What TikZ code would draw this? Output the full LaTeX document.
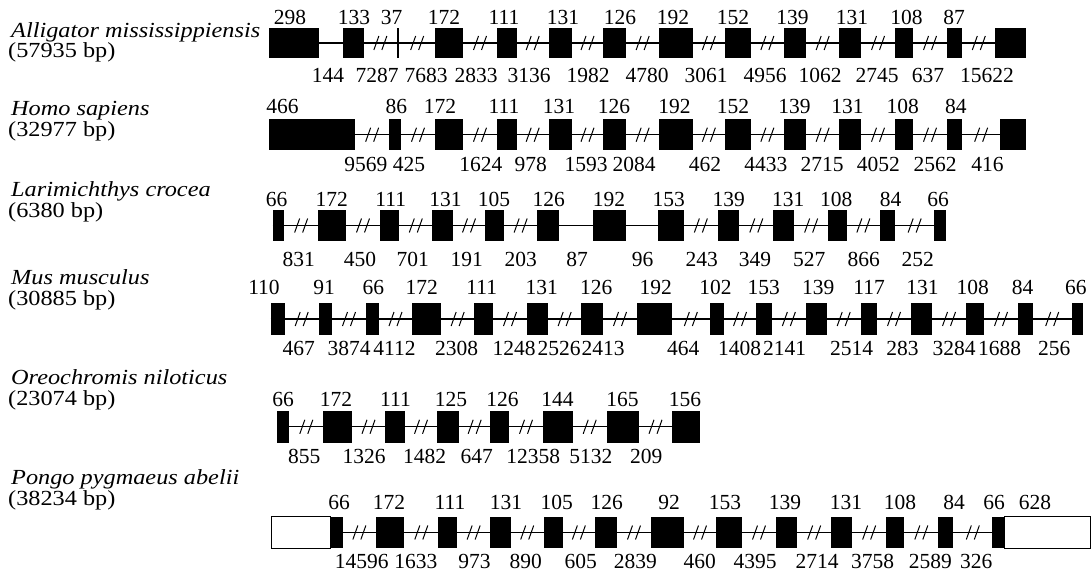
\documentclass[tikz,border=0pt]{standalone}
\usepackage{fontspec}
\setmainfont{Liberation Serif}
\usetikzlibrary{calc}

\tikzset{
  brk/.pic={\draw[line width=1pt] (-6.5,7) -- (-1.5,-7) (1.5,7) -- (6.5,-7);}
}
\newcommand{\wide}[1]{\scalebox{1.13}[1]{#1}}

\begin{document}
\begin{tikzpicture}[x=1pt,y=-1pt,
  exon/.style={fill=black},
  utr/.style={draw=black,fill=white,line width=1pt},
  intron/.style={line width=1.2pt},
  num/.style={font=\fontsize{21.5}{24}\selectfont,inner sep=0pt},
  species/.style={font=\fontsize{21.5}{24}\selectfont\itshape,anchor=base west,inner sep=0pt},
  gsize/.style={font=\fontsize{21.5}{24}\selectfont,anchor=base west,inner sep=0pt}]
  \useasboundingbox (0,0) rectangle (1091,575);

  % Alligator mississippiensis
  \node[species] (sp1) at (11,37.7) {\wide{Alligator mississippiensis}};
  \node[gsize] (bp1) at (8,57.6) {\wide{(57935 bp)}};
  \draw[intron] (269.3,43) -- (1026,43);
  \foreach \a/\b in {269.3/319.3,342.7/364,396.7/399.3,435/463.3,496.7/516.7,548.7/571.7,603.3/626,
    659.3/692.7,725/750.7,784/806,839.3/861,895/913.3,946.7/962.3,995.3/1026}
    \fill[exon] (\a,28.3) rectangle (\b,58.3);
  \foreach \a/\b in {364/396.7,399.3/435,463.3/496.7,516.7/548.7,571.7/603.3,626/659.3,692.7/725,
    750.7/784,806/839.3,861/895,913.3/946.7,962.3/995.3}
    \pic at ({(\a+\b)/2},43) {brk};
  \foreach \lab/\x [count=\i] in {298/290,133/354,37/391.7,172/444,111/504,131/563,126/620,
    192/673,152/733,139/792.5,131/852,108/906.5,87/954}
    \node[num] (ex1-\i) at (\x,17.5) {\lab};
  \foreach \lab/\x [count=\i] in {144/328,7287/377,7683/426,2833/476,3136/529,1982/588,4780/647,
    3061/706,4956/765,1062/820,2745/877,637/928,15622/987}
    \node[num] (in1-\i) at (\x,75) {\lab};

  % Homo sapiens
  \node[species] (sp2) at (11,116) {\wide{Homo sapiens}};
  \node[gsize] (bp2) at (8,136) {\wide{(32977 bp)}};
  \draw[intron] (269.3,134.7) -- (1026,134.7);
  \foreach \a/\b in {269.3/355,389.3/401,435/463.3,496.7/516.7,548.7/571.7,603.3/626,659.3/692.7,
    725/750.7,784/806,839.3/861,895/913.3,946.7/962.3,1000/1026}
    \fill[exon] (\a,119.3) rectangle (\b,150);
  \foreach \a/\b in {355/389.3,401/435,463.3/496.7,516.7/548.7,571.7/603.3,626/659.3,692.7/725,
    750.7/784,806/839.3,861/895,913.3/946.7,962.3/1000}
    \pic at ({(\a+\b)/2},134.7) {brk};
  \foreach \lab/\x [count=\i] in {466/282.5,86/396.3,172/440,111/504,131/559,126/614,
    192/674.5,152/733,139/794.5,131/847.5,108/902.7,84/955.8}
    \node[num] (ex2-\i) at (\x,106.7) {\lab};
  \foreach \lab/\x [count=\i] in {9569/365.8,425/409,1624/480.8,978/530.8,1593/586,2084/634,
    462/705,4433/765.8,2715/822,4052/878.3,2562/935,416/987.5}
    \node[num] (in2-\i) at (\x,164) {\lab};

  % Larimichthys crocea
  \node[species] (sp3) at (11,196.4) {\wide{Larimichthys crocea}};
  \node[gsize] (bp3) at (8,217) {\wide{(6380 bp)}};
  \draw[intron] (272.7,225.5) -- (946,225.5);
  \foreach \a/\b in {272.7/284,318.3/346,380/399.3,432.3/452.7,485.3/504,537.3/559,593.3/626,
    658.3/684,717.7/739.3,773.3/794,828.3/846.7,880/895.3,934/946}
    \fill[exon] (\a,210) rectangle (\b,241);
  \foreach \a/\b in {284/318.3,346/380,399.3/432.3,452.7/485.3,504/537.3,
    684/717.7,739.3/773.3,794/828.3,846.7/880,895.3/934}
    \pic at ({(\a+\b)/2},225.5) {brk};
  \foreach \lab/\x [count=\i] in {66/276.7,172/331.7,111/390.8,131/445.5,105/494,126/548.8,192/609,
    153/668.7,139/728.8,131/788.3,108/836.3,84/890.5,66/938}
    \node[num] (ex3-\i) at (\x,199) {\lab};
  \foreach \lab/\x [count=\i] in {831/298.8,450/360,701/412.8,191/466.7,203/520.8,87/577.2,96/642.5,
    243/701.7,349/755,527/809.2,866/863.7,252/917.8}
    \node[num] (in3-\i) at (\x,259.5) {\lab};

  % Mus musculus
  \node[species] (sp4) at (11,284.3) {\wide{Mus musculus}};
  \node[gsize] (bp4) at (8,305.8) {\wide{(30885 bp)}};
  \draw[intron] (270.7,319) -- (1083.3,319);
  \foreach \a/\b in {270.7/284.7,318.7/332,366/378.7,412.3/441,474.3/493.3,526.7/548.3,581/603.3,
    636.7/671.7,710/724,756/771.7,806/826.7,860.7/877.3,910.7/932.3,965.7/984.3,1017.7/1032.7,1071.7/1083.3}
    \fill[exon] (\a,303.3) rectangle (\b,335);
  \foreach \a/\b in {284.7/318.7,332/366,378.7/412.3,441/474.3,493.3/526.7,548.3/581,603.3/636.7,
    671.7/710,724/756,771.7/806,826.7/860.7,877.3/910.7,932.3/965.7,984.3/1017.7,1032.7/1071.7}
    \pic at ({(\a+\b)/2},319) {brk};
  \foreach \lab/\x [count=\i] in {110/264,91/324,66/373.3,172/421.7,111/481.7,131/541.7,126/596.3,
    192/655.8,102/715.5,153/763.7,139/818.3,117/869.2,131/922.5,108/972.7,84/1022.5,66/1075.8}
    \node[num] (ex4-\i) at (\x,287.5) {\lab};
  \foreach \lab/\x [count=\i] in {467/298.8,3874/349,4112/394.5,2308/456.7,1248/514.2,2526/559.2,
    2413/603,464/683.3,1408/739.5,2141/784.5,2514/851.7,283/902.5,3284/954,1688/999.5,256/1054.2}
    \node[num] (in4-\i) at (\x,348.3) {\lab};

  % Oreochromis niloticus
  \node[species] (sp5) at (11,384.7) {\wide{Oreochromis niloticus}};
  \node[gsize] (bp5) at (8,405.5) {\wide{(23074 bp)}};
  \draw[intron] (277.3,426.8) -- (700,426.8);
  \foreach \a/\b in {277.3/289.3,323.3/351.7,385.3/404.7,437.3/459.3,490/509.3,542.7/572.7,
    606.7/639.3,671.7/700}
    \fill[exon] (\a,411) rectangle (\b,442.7);
  \foreach \a/\b in {289.3/323.3,351.7/385.3,404.7/437.3,459.3/490,509.3/542.7,572.7/606.7,639.3/671.7}
    \pic at ({(\a+\b)/2},426.8) {brk};
  \foreach \lab/\x [count=\i] in {66/283,172/336,111/395.5,125/451,126/502.5,144/557.5,165/622.5,156/685}
    \node[num] (ex5-\i) at (\x,399.5) {\lab};
  \foreach \lab/\x [count=\i] in {855/304.2,1326/364.2,1482/424.7,647/476.7,12358/533.3,5132/590.8,209/646.3}
    \node[num] (in5-\i) at (\x,456.7) {\lab};

  % Pongo pygmaeus abelii
  \node[species] (sp6) at (11,484.7) {\wide{Pongo pygmaeus abelii}};
  \node[gsize] (bp6) at (8,505.5) {\wide{(38234 bp)}};
  \draw[intron] (330,532.5) -- (1004,532.5);
  \draw[utr] (271,516.7) rectangle (330,548.3);
  \draw[utr] (1004,516.7) rectangle (1090,548.3);
  \foreach \a/\b in {330/342.7,376/404.3,438.3/457.3,490/510.7,543.7/562.7,595/617.3,650.7/684,
    716/742.3,775.7/797.3,831/852.3,886/904.3,938.3/953.3,992.3/1004}
    \fill[exon] (\a,516.7) rectangle (\b,548.3);
  \foreach \a/\b in {342.7/376,404.3/438.3,457.3/490,510.7/543.7,562.7/595,617.3/650.7,684/716,
    742.3/775.7,797.3/831,852.3/886,904.3/938.3,953.3/992.3}
    \pic at ({(\a+\b)/2},532.5) {brk};
  \foreach \lab/\x [count=\i] in {66/339,172/389,111/450,131/506,105/556.7,126/606.7,92/669,
    153/725,139/785,131/846,108/900,84/954,66/994,628/1035}
    \node[num] (ex6-\i) at (\x,502.5) {\lab};
  \foreach \lab/\x [count=\i] in {14596/361.7,1633/415.8,973/474.5,890/525.8,605/580.8,2839/635.3,
    460/699.7,4395/755.2,2714/817,3758/872.7,2589/930.3,326/976.3}
    \node[num] (in6-\i) at (\x,561.7) {\lab};
\end{tikzpicture}
\end{document}
